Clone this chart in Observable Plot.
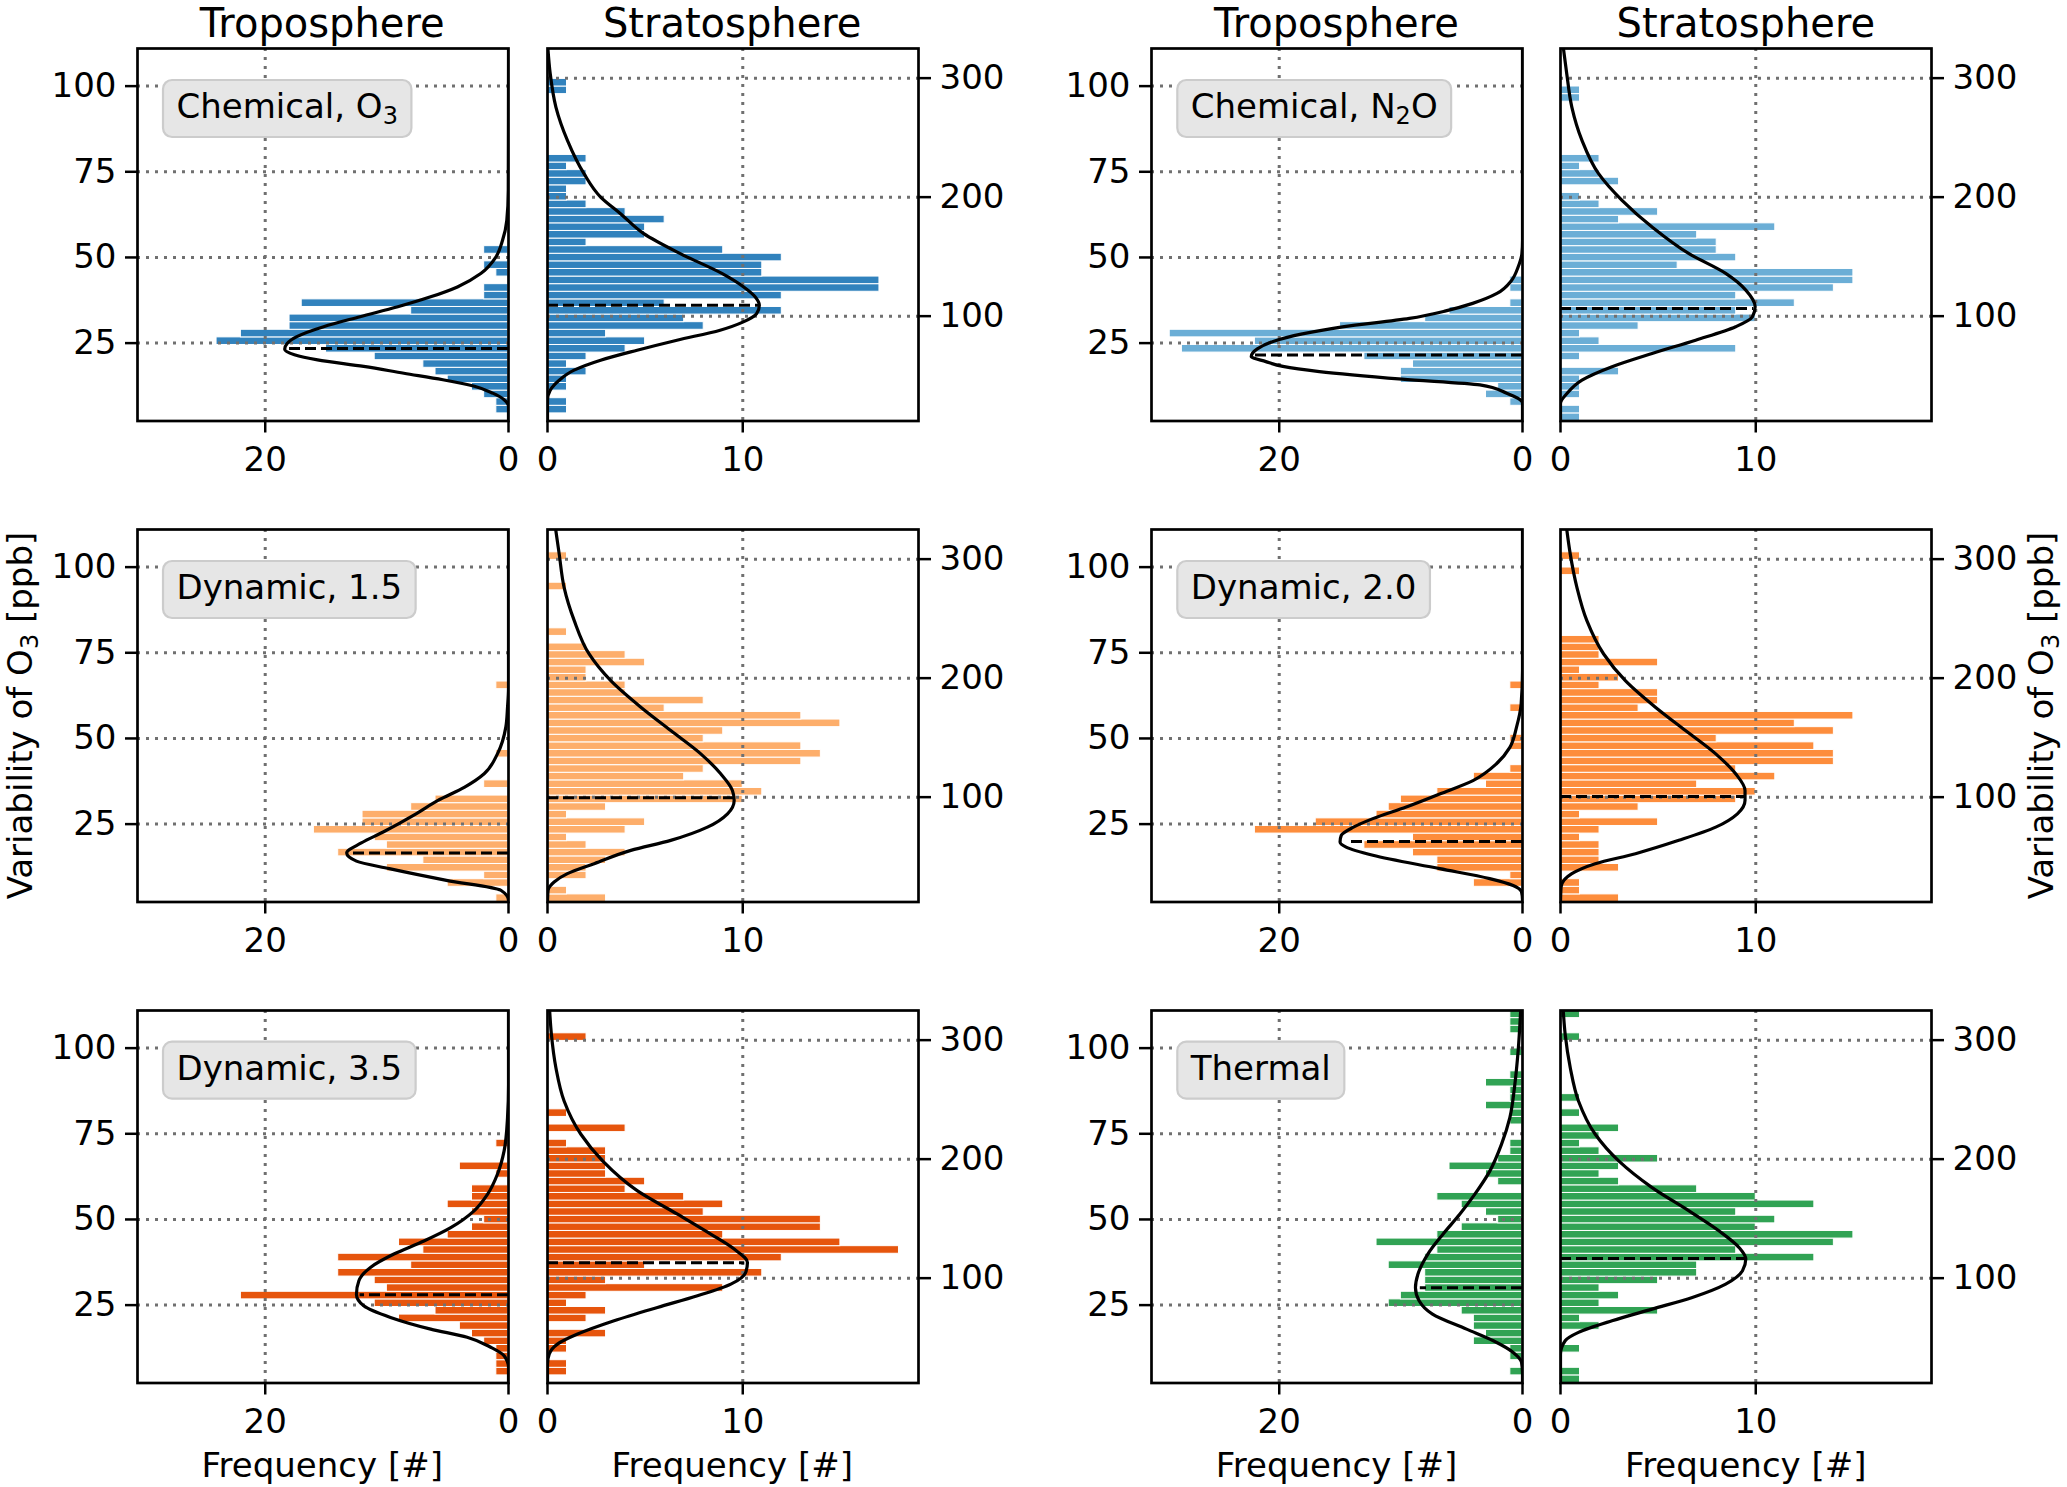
<!DOCTYPE html>
<html><head><meta charset="utf-8">
<script src="https://cdn.jsdelivr.net/npm/d3@7"></script>
<script src="https://cdn.jsdelivr.net/npm/@observablehq/plot@0.6"></script>
<style>
html,body{margin:0;padding:0;background:white;}
#root{position:relative;width:2067px;height:1487px;overflow:hidden;background:white;font-family:"DejaVu Sans";}
.pl{position:absolute;}
.pl svg{max-width:none;overflow:visible;}
</style></head><body><div id="root"></div>
<script>
// ---- axes / bins ----
const tropoDomain = [2.27, 110.98];   // ppb (left axis)
const stratDomain = [11.9, 324.9];    // right axis
const nBins = 49;
const tropoYTicks = [25, 50, 75, 100];
const stratYTicks = [100, 200, 300];
const tropoXTicks = [0, 20];
const stratXTicks = [0, 10];
const tropoXDomain = [0, 30.5];
const stratXDomain = [0, 19];
const columnTitles = ["Troposphere", "Stratosphere", "Troposphere", "Stratosphere"];
const xAxisLabel = "Frequency [#]";
const barColors = ["#3182bd", "#6baed6", "#fdae6b", "#fd8d3c", "#e6550d", "#31a354"];
// label: [text, subscript, rest]
const panelLabels = [["Chemical, O", "3", ""], ["Chemical, N", "2", "O"], ["Dynamic, 1.5", "", ""], ["Dynamic, 2.0", "", ""], ["Dynamic, 3.5", "", ""], ["Thermal", "", ""]];

// ---- histogram counts per bin (bottom bin first) ----
const tropChemO3 = [0,1,1,2,3,5,6,7,11,15,24,22,18,18,8,17,2,2,0,1,2,0,2];
const stratChemO3 = [0,1,1,0,1,1,2,1,2,4,5,3,8,7,12,6,12,17,17,11,11,12,9,2,5,5,6,4,2,1,1,2,2,1,2,0,0,0,0,0,0,0,0,1,1];
const tropChemN2O = [0,0,1,3,2,10,10,9,13,28,22,29,15,8,6,1,0,1,1];
const stratChemN2O = [1,1,0,1,1,1,3,0,1,9,2,1,4,10,9,12,9,14,15,15,6,9,8,8,7,11,3,5,2,1,0,3,2,1,2,0,0,0,0,0,0,0,1,1];
const tropDyn15 = [1,0,5,2,10,7,14,10,11,16,12,12,8,6,0,2,0,0,0,1,0,0,0,0,0,0,0,0,1];
const stratDyn15 = [3,1,0,2,2,3,4,2,1,4,5,1,3,10,11,10,7,8,13,14,13,8,9,15,13,6,8,4,4,2,2,5,4,2,0,1,0,0,0,0,0,1,0,0,0,1];
const tropDyn20 = [0,0,4,1,7,7,9,13,9,22,17,12,11,10,7,3,4,1,0,0,1,1,0,0,0,1,0,0,1];
const stratDyn20 = [3,1,1,0,3,2,2,2,1,2,5,1,4,9,10,7,11,9,14,14,13,8,14,12,15,4,5,5,2,3,1,5,2,2,2,0,0,0,0,0,0,0,0,1,0,1];
const tropDyn35 = [0,1,1,1,1,2,3,4,9,6,11,22,10,11,14,8,14,7,9,5,3,2,3,5,3,3,0,1,4,0,0,1];
const stratDyn35 = [0,1,1,0,1,1,3,0,2,3,1,2,9,3,11,5,12,18,15,9,14,14,8,9,7,4,5,3,3,3,3,1,0,4,0,1,0,0,0,0,0,0,0,0,0,2];
const tropThermal = [0,1,0,1,1,4,3,4,4,5,11,10,8,8,8,11,8,7,12,7,5,2,3,5,7,0,2,3,6,2,1,1,0,0,1,1,3,1,1,3,1,0,0,1,0,0,1,1,1];
const stratThermal = [1,1,0,0,1,0,0,2,1,5,2,3,2,5,7,7,13,9,14,15,10,11,9,13,10,7,3,2,3,5,2,1,2,3,0,1,0,1,0,0,0,0,0,0,0,1,0,0,1];

// ---- fitted curves, [value, frequency] ----
const fitTropChemO3 = [[110.98,0],[69.6,0.02],[60.8,0.14],[55.0,0.49],[50.1,1.04],[45.3,2.28],[41.4,4.2],[38.5,6.4],[35.6,9.1],[32.7,12.2],[29.8,15.2],[26.9,17.4],[24.9,18.2],[23.2,18.4],[21.6,17.6],[20.1,15.7],[18.2,11.9],[16.2,8.6],[14.3,5.4],[12.4,2.8],[10.4,1.3],[8.5,0.36],[6.5,0],[2.27,0]];
const fitStratChemO3 = [[324.9,0.02],[303.7,0.14],[275.7,0.43],[247.7,1.02],[219.7,1.87],[200.1,2.72],[186.1,3.74],[169.3,4.93],[152.5,6.80],[135.9,8.93],[124.7,10.03],[116.3,10.63],[109.2,10.85],[102.2,10.71],[95.2,10.03],[88.2,8.84],[79.8,6.63],[71.4,4.59],[63.0,2.72],[54.6,1.36],[46.2,0.60],[37.8,0.14],[29.5,0],[11.9,0]];
const fitTropChemN2O = [[110.98,0],[55,0],[51.1,0.05],[47.2,0.36],[43.3,0.9],[39.5,2.1],[36.6,4.1],[34.4,6.3],[32.2,9.3],[29.75,14.8],[27.7,18.1],[25.5,20.5],[23.3,21.8],[21.1,22.3],[19.6,21.1],[18.2,19.7],[16.7,16.7],[14.5,9.9],[12.8,3.5],[10.4,1.3],[7.5,0],[2.27,0]];
const fitStratChemN2O = [[324.9,0.15],[303.7,0.32],[275.7,0.58],[247.7,1.10],[219.7,1.95],[197.3,3.15],[174.9,4.69],[152.5,6.58],[135.9,8.46],[121.9,9.49],[107.9,9.97],[99.5,9.83],[91.1,8.97],[79.8,6.92],[68.6,4.69],[57.5,2.64],[46.2,1.10],[35.0,0.33],[26.6,0],[11.9,0]];
const fitTropDyn15 = [[110.98,0],[64.9,0],[59.1,0.08],[53.3,0.22],[45.5,0.91],[39.7,2.0],[35.8,3.6],[31.9,5.8],[28.0,7.6],[22.7,10.3],[19.5,12.1],[16.55,13.3],[14.2,12.5],[12.0,9.8],[8.6,5.1],[5.7,0.63],[2.75,0],[2.27,0]];
const fitStratDyn15 = [[324.9,0.42],[304.2,0.60],[276.3,0.85],[248.3,1.37],[220.3,2.13],[197.9,3.24],[175.6,4.78],[156.0,6.31],[136.4,7.85],[119.6,8.87],[105.6,9.47],[97.2,9.56],[86.0,9.22],[74.8,8.19],[63.7,6.31],[55.3,4.27],[44.1,2.39],[35.7,1.02],[28.7,0.34],[21.7,0.03],[11.9,0]];
const fitTropDyn20 = [[110.98,0],[69.8,0],[60.1,0.11],[53.3,0.49],[47.4,1.04],[42.6,2.14],[37.7,4.07],[33.8,6.81],[30.0,9.56],[26.6,12.3],[24.1,13.9],[21.7,14.9],[19.8,15.0],[18.3,14.5],[15.9,12.3],[12.0,6.8],[9.1,2.7],[7.1,0.77],[5.2,0.08],[2.8,0],[2.27,0]];
const fitStratDyn20 = [[324.9,0.32],[304.2,0.50],[276.3,0.84],[248.3,1.35],[220.3,2.21],[197.9,3.32],[175.6,4.86],[156.0,6.40],[136.4,7.95],[119.6,8.97],[105.6,9.45],[97.2,9.45],[86.0,9.06],[74.8,7.95],[63.7,6.06],[52.5,3.84],[44.1,1.78],[35.7,0.58],[24.5,0.03],[11.9,0]];
const fitTropDyn35 = [[110.98,0],[89.4,0],[79.7,0.08],[70.0,0.36],[63.2,0.91],[57.3,1.73],[52.5,2.83],[47.6,4.75],[43.7,6.95],[39.9,9.42],[36.0,11.35],[32.1,12.3],[28.2,12.5],[24.8,11.9],[21.4,9.7],[18.0,6.4],[15.6,3.4],[12.7,1.46],[10.2,0.36],[6.8,0],[2.27,0]];
const fitStratDyn35 = [[324.9,0.11],[304.8,0.20],[276.8,0.43],[248.9,0.85],[220.9,1.71],[198.5,2.82],[173.3,4.61],[153.7,6.66],[137.0,8.36],[124.4,9.56],[113.2,10.24],[104.8,10.15],[95.0,9.39],[85.2,7.68],[75.4,5.63],[64.2,3.41],[53.0,1.54],[44.6,0.51],[36.2,0.09],[27.8,0],[11.9,0]];
const fitTropThermal = [[110.98,0.15],[99.1,0.36],[89.4,0.63],[79.7,1.04],[71.9,1.73],[64.1,2.69],[57.3,3.93],[51.5,5.16],[45.7,6.54],[39.9,7.78],[34.0,8.6],[30.1,8.8],[26.3,8.5],[22.4,7.4],[18.0,4.6],[14.6,2.4],[11.2,0.77],[8.3,0.08],[4.9,0],[2.27,0]];
const fitStratThermal = [[324.9,0.14],[304.8,0.24],[276.8,0.50],[248.9,0.92],[220.9,1.78],[198.5,2.98],[176.1,4.69],[156.5,6.58],[139.8,8.11],[125.8,9.14],[116.0,9.49],[106.2,9.32],[95.0,8.46],[83.8,6.75],[74.0,4.69],[64.2,2.64],[54.4,0.92],[47.4,0.24],[36.2,0],[11.9,0]];

// ---- dashed markers [value, frequency at curve] ----
const markTrop = [[23.46,18],[21.5,22],[16.55,13.1],[19.95,14.4],[28.0,12.2],[30.1,8.4]];
const markStrat = [[109.2,10.85],[106.4,9.9],[99.5,9.56],[100.6,9.5],[112.9,10.1],[116.5,9.5]];

// ---- layout ----
const frameLefts = [136.7, 546.7, 1151, 1560.3];
const frameTops = [48.3, 529.3, 1010];
const frameW = 371, frameH = 372.5;

const panelDefs = [
  {row:0, col:0, kind:"tropo", counts:tropChemO3, curve:fitTropChemO3, mark:markTrop[0], color:barColors[0]},
  {row:0, col:1, kind:"strat", counts:stratChemO3, curve:fitStratChemO3, mark:markStrat[0], color:barColors[0]},
  {row:0, col:2, kind:"tropo", counts:tropChemN2O, curve:fitTropChemN2O, mark:markTrop[1], color:barColors[1]},
  {row:0, col:3, kind:"strat", counts:stratChemN2O, curve:fitStratChemN2O, mark:markStrat[1], color:barColors[1]},
  {row:1, col:0, kind:"tropo", counts:tropDyn15, curve:fitTropDyn15, mark:markTrop[2], color:barColors[2]},
  {row:1, col:1, kind:"strat", counts:stratDyn15, curve:fitStratDyn15, mark:markStrat[2], color:barColors[2]},
  {row:1, col:2, kind:"tropo", counts:tropDyn20, curve:fitTropDyn20, mark:markTrop[3], color:barColors[3]},
  {row:1, col:3, kind:"strat", counts:stratDyn20, curve:fitStratDyn20, mark:markStrat[3], color:barColors[3]},
  {row:2, col:0, kind:"tropo", counts:tropDyn35, curve:fitTropDyn35, mark:markTrop[4], color:barColors[4]},
  {row:2, col:1, kind:"strat", counts:stratDyn35, curve:fitStratDyn35, mark:markStrat[4], color:barColors[4]},
  {row:2, col:2, kind:"tropo", counts:tropThermal, curve:fitTropThermal, mark:markTrop[5], color:barColors[5]},
  {row:2, col:3, kind:"strat", counts:stratThermal, curve:fitStratThermal, mark:markStrat[5], color:barColors[5]}
];

const root = document.getElementById("root");
const gridStyle = {stroke:"#707070", strokeOpacity:1, strokeWidth:3, strokeDasharray:"3,6"};

for (const p of panelDefs) {
  const tropo = p.kind === "tropo";
  const dom = tropo ? tropoDomain : stratDomain;
  const bw = (dom[1] - dom[0]) / nBins;
  const bars = p.counts.map((c, i) => ({x0: 0, c, y1: dom[0] + i * bw, y2: dom[0] + (i + 1) * bw})).filter(d => d.c > 0);
  const curve = p.curve.slice().sort((a, b) => a[0] - b[0]);
  const mL = tropo ? 125 : 14, mR = tropo ? 14 : 125, mT = 14, mB = 70;
  const chart = Plot.plot({
    width: mL + frameW + mR, height: mT + frameH + mB,
    marginLeft: mL, marginRight: mR, marginTop: mT, marginBottom: mB,
    style: {background: "transparent", fontFamily: "DejaVu Sans", color: "black", overflow: "visible"},
    x: {domain: tropo ? tropoXDomain : stratXDomain, reverse: tropo, label: null},
    y: {domain: dom, label: null},
    marks: [
      Plot.rect(bars, {x1: "x0", x2: "c", y1: "y1", y2: "y2", fill: p.color, stroke: "white", strokeWidth: 1}),
      Plot.gridX({ticks: tropo ? [20] : [10], ...gridStyle}),
      Plot.gridY({ticks: tropo ? tropoYTicks : stratYTicks, ...gridStyle}),
      Plot.line(curve, {x: d => d[1], y: d => d[0], curve: "monotone-y", stroke: "black", strokeWidth: 3.2, clip: true}),
      Plot.ruleY([p.mark], {y: d => d[0], x1: () => 0, x2: d => d[1], stroke: "black", strokeWidth: 3, strokeDasharray: "11,5"}),
      Plot.frame({stroke: "black", strokeWidth: 2.7}),
      Plot.axisY({ticks: tropo ? tropoYTicks : stratYTicks, anchor: tropo ? "left" : "right", tickSize: 12, tickPadding: 9, fontSize: 34, strokeWidth: 2.5, label: null}),
      Plot.axisX({ticks: tropo ? tropoXTicks : stratXTicks, anchor: "bottom", tickSize: 12, tickPadding: 14, fontSize: 34, strokeWidth: 2.5, label: null})
    ]
  });
  const holder = document.createElement("div");
  holder.className = "pl";
  holder.style.left = (frameLefts[p.col] - mL) + "px";
  holder.style.top = (frameTops[p.row] - mT) + "px";
  holder.appendChild(chart);
  root.appendChild(holder);
}

// ---- overlay texts ----
const ov = d3.select("#root").append("svg")
  .attr("width", 2067).attr("height", 1487)
  .style("position", "absolute").style("left", 0).style("top", 0)
  .style("font-family", "DejaVu Sans").style("pointer-events", "none");

columnTitles.forEach((t, c) => {
  ov.append("text").attr("x", frameLefts[c] + frameW / 2).attr("y", 37)
    .attr("text-anchor", "middle").attr("font-size", 40).attr("fill", "black").text(t);
  ov.append("text").attr("x", frameLefts[c] + frameW / 2).attr("y", 1477)
    .attr("text-anchor", "middle").attr("font-size", 34).attr("fill", "black").text(xAxisLabel);
});

function yLabel(x, y) {
  const t = ov.append("text").attr("transform", `translate(${x},${y}) rotate(-90)`)
    .attr("text-anchor", "middle").attr("font-size", 34).attr("fill", "black");
  t.append("tspan").text("Variability of O");
  t.append("tspan").attr("font-size", 24).attr("dy", 6).text("3");
  t.append("tspan").attr("dy", -6).text(" [ppb]");
}
yLabel(32, frameTops[1] + frameH / 2);
yLabel(2053, frameTops[1] + frameH / 2);

panelLabels.forEach((lab, k) => {
  const row = Math.floor(k / 2), col = (k % 2) * 2;
  const bx = frameLefts[col] + 26.3, by = frameTops[row] + 31.7;
  const g = ov.append("g");
  const rect = g.append("rect").attr("x", bx).attr("y", by).attr("height", 57).attr("rx", 9)
    .attr("fill", "#e6e6e6").attr("stroke", "#cccccc").attr("stroke-width", 2.2);
  const t = g.append("text").attr("x", bx + 13.5).attr("y", by + 38.3).attr("font-size", 34).attr("fill", "black");
  t.append("tspan").text(lab[0]);
  if (lab[1]) {
    t.append("tspan").attr("font-size", 24).attr("dy", 6).text(lab[1]);
    if (lab[2]) t.append("tspan").attr("dy", -6).text(lab[2]);
  }
  const len = t.node().getComputedTextLength();
  rect.attr("width", len + 27);
});
</script></body></html>
